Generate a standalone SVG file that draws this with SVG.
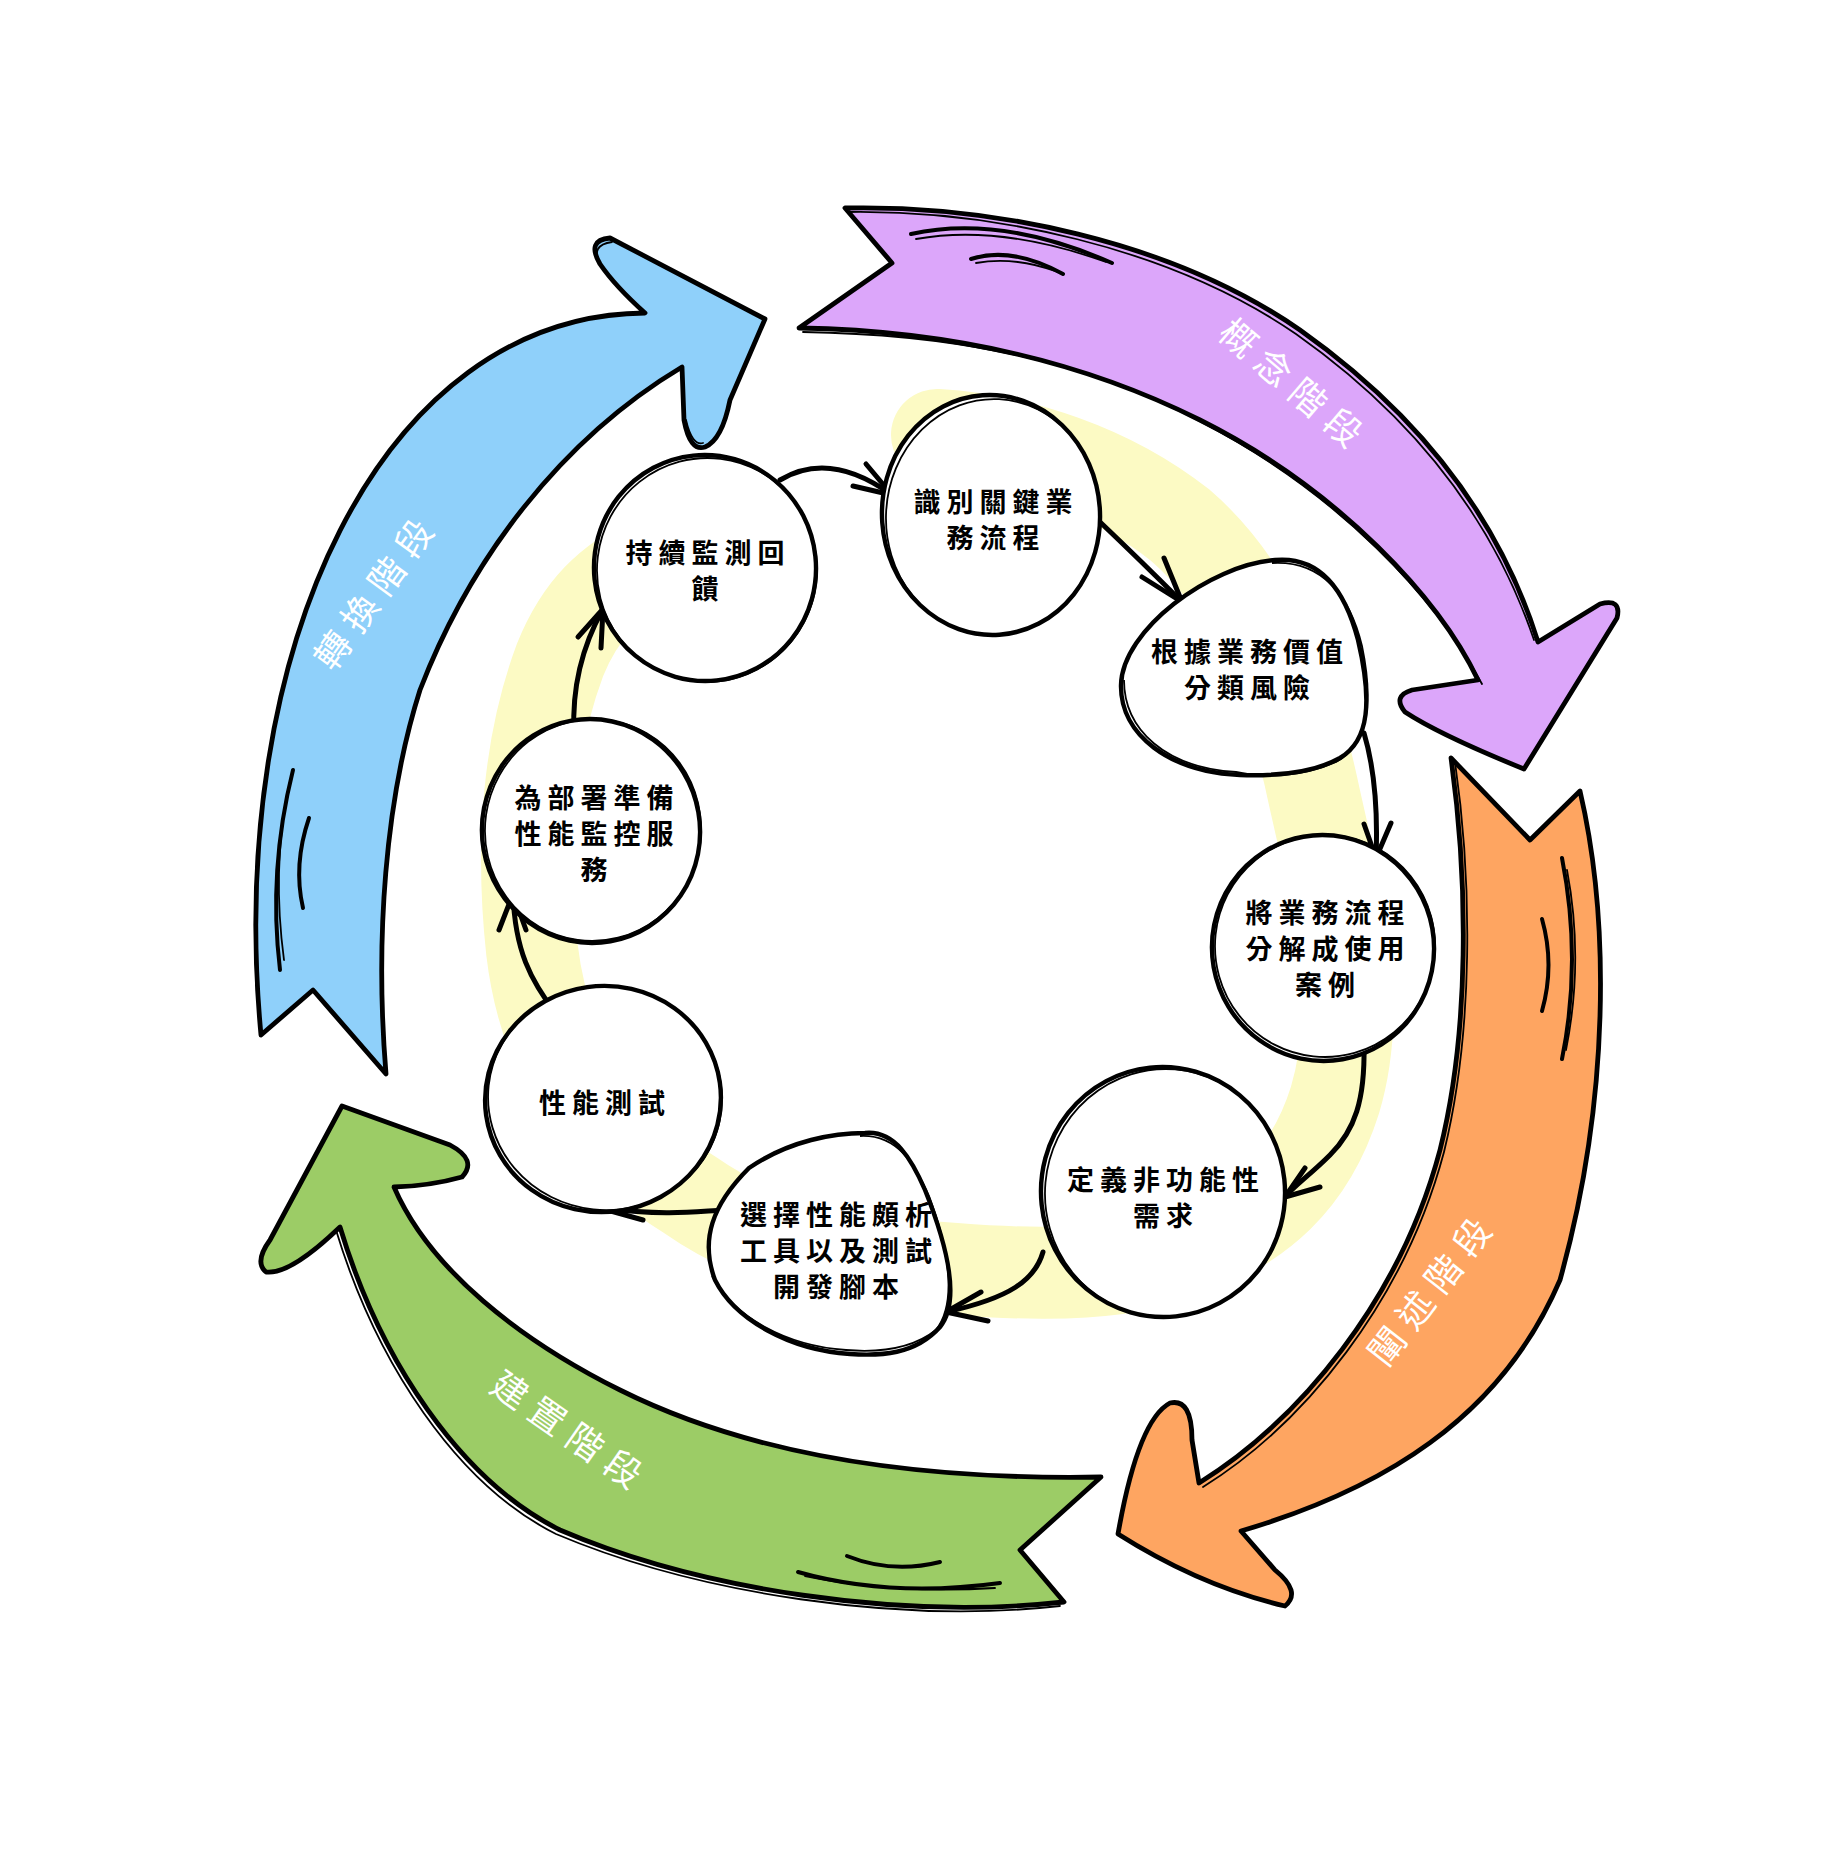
<svg xmlns="http://www.w3.org/2000/svg" width="1846" height="1862" viewBox="0 0 1846 1862">
<style>
.bg{fill:#ffffff}
.band{fill:none;stroke:#fcfac4;stroke-width:92;stroke-linecap:round;stroke-linejoin:round}
.big{stroke:#000;stroke-width:4.8;stroke-linejoin:round}
.sk{fill:none;stroke:#000;stroke-width:1.8;stroke-linecap:round}
.deco{fill:none;stroke:#000;stroke-width:4;stroke-linecap:round}
.node{fill:#fff;stroke:#000;stroke-width:4.4}
.node2{fill:none;stroke:#000;stroke-width:1.8}
.edge{fill:none;stroke:#000;stroke-width:5;stroke-linecap:round;stroke-linejoin:round}
.lbl{font-family:"Noto Sans CJK TC","Noto Sans CJK SC",sans-serif;font-size:36px;fill:#ffffff;letter-spacing:10px;text-anchor:middle}
.t{font-family:"Noto Sans CJK TC","Noto Sans CJK SC",sans-serif;font-size:27px;font-weight:700;fill:#000;letter-spacing:6px;text-anchor:middle}
</style>
<rect class="bg" x="0" y="0" width="1846" height="1862"/>

<g id="highlight-ring">
<path class="band" d="M937,435 C1020,440 1110,470 1180,525 C1250,585 1290,680 1315,800 C1335,890 1365,1000 1335,1100 C1310,1180 1260,1225 1180,1255 C1100,1280 1000,1275 880,1262 C800,1252 740,1230 690,1195 C600,1140 545,1060 532,950 C520,840 530,740 560,660 C580,610 610,580 655,560"/>
</g>

<g id="phase-concept">
<path class="big" fill="#dca6fa" d="M845,208 C990,205 1170,240 1300,330 C1420,415 1500,520 1538,642 L1600,604 Q1622,598 1617,618 L1524,769 Q1440,735 1405,712 Q1392,696 1412,690 L1478,680 C1440,600 1340,490 1200,420 C1060,350 920,330 799,328 L892,263 Z"/>
<path class="sk" d="M803,332 C930,334 1070,352 1205,424 C1340,495 1436,598 1482,684"/>
<path class="sk" d="M848,212 C990,210 1168,246 1296,334 C1415,418 1494,522 1534,640"/>
<path class="deco" d="M911,234 Q1000,214 1112,263"/>
<path class="sk" d="M916,239 Q1000,224 1106,262"/>
<path class="deco" d="M971,259 Q1012,246 1063,274"/>
<path class="sk" d="M976,263 Q1015,256 1058,272"/>
<text class="lbl" transform="translate(1286,396) rotate(40.6)">概念階段</text>
</g>

<g id="phase-elaboration">
<path class="big" fill="#fea561" d="M1451,758 L1530,840 L1580,791 C1610,920 1610,1100 1560,1280 C1500,1420 1380,1490 1241,1531 L1275,1570 Q1302,1592 1285,1606 Q1200,1586 1118,1534 Q1138,1420 1170,1403 Q1192,1398 1192,1440 L1199,1483 C1300,1420 1400,1300 1440,1150 C1470,1030 1468,880 1451,758 Z"/>
<path class="sk" d="M1455,762 C1472,880 1474,1030 1444,1152 C1404,1302 1304,1424 1203,1487"/>
<path class="deco" d="M1562,858 Q1582,960 1562,1059"/>
<path class="sk" d="M1567,870 Q1584,960 1566,1050"/>
<path class="deco" d="M1542,919 Q1555,965 1542,1011"/>
<text class="lbl" transform="translate(1443,1296) rotate(-52)">闡述階段</text>
</g>

<g id="phase-construction">
<path class="big" fill="#9ccc66" d="M1101,1477 L1020,1550 L1064,1602 C900,1620 700,1590 560,1530 C460,1480 380,1360 340,1227 Q290,1275 266,1272 Q254,1262 270,1240 L342,1106 L450,1145 Q478,1160 462,1177 Q430,1186 394,1187 C430,1270 520,1340 620,1390 C760,1460 930,1480 1101,1477 Z"/>
<path class="sk" d="M1060,1606 C898,1624 698,1594 556,1534 C456,1484 376,1362 336,1230"/>
<path class="deco" d="M847,1556 Q892,1574 940,1562"/>
<path class="deco" d="M798,1572 Q890,1598 1000,1583"/>
<path class="sk" d="M805,1576 Q892,1594 995,1588"/>
<text class="lbl" transform="translate(563,1443) rotate(35)">建置階段</text>
</g>

<g id="phase-transition">
<path class="big" fill="#8fd0fa" d="M261,1035 L313,990 L386,1074 C375,940 385,800 420,690 C470,560 560,440 682,367 L684,420 Q690,452 705,447 Q722,440 730,400 L765,319 L610,238 Q586,240 600,264 Q615,286 645,313 C380,315 225,650 261,1035 Z"/>
<path class="sk" d="M600,264 Q590,245 612,242"/>
<path class="sk" d="M686,420 Q692,446 703,443"/>
<path class="deco" d="M293,770 Q268,870 280,970"/>
<path class="sk" d="M288,790 Q272,870 284,960"/>
<path class="deco" d="M309,818 Q293,865 303,908"/>
<text class="lbl" transform="translate(387,598) rotate(-54)">轉換階段</text>
</g>

<g id="connectors">
<path class="edge" d="M780,480 Q830,450 892,495"/>
<path class="edge" d="M853,486 L892,495 L866,464"/>
<path class="edge" d="M1100,522 Q1140,560 1182,602"/>
<path class="edge" d="M1142,577 L1182,602 L1164,558"/>
<path class="edge" d="M1364,733 C1375,770 1378,810 1376,858"/>
<path class="edge" d="M1364,824 L1376,858 L1391,823"/>
<path class="edge" d="M1364,1046 C1365,1100 1355,1130 1330,1155 C1310,1175 1295,1185 1285,1197"/>
<path class="edge" d="M1305,1168 L1285,1197 L1320,1187"/>
<path class="edge" d="M1043,1252 C1035,1280 1010,1298 946,1312"/>
<path class="edge" d="M981,1292 L946,1312 L988,1321"/>
<path class="edge" d="M724,1210 C690,1212 670,1216 600,1208"/>
<path class="edge" d="M640,1194 L600,1208 L643,1220"/>
<path class="edge" d="M557,1015 C530,980 515,950 513,894"/>
<path class="edge" d="M499,930 L513,894 L526,930"/>
<path class="edge" d="M574,733 C572,690 580,650 603,609"/>
<path class="edge" d="M578,637 L603,609 L601,648"/>
</g>

<g id="n1">
<ellipse class="node" cx="991" cy="515" rx="109" ry="120" transform="rotate(-4 991 515)"/>
<ellipse class="node2" cx="993" cy="517" rx="107" ry="118" transform="rotate(3 993 517)"/>
<text class="t"><tspan x="996" y="512">識別關鍵業</tspan><tspan x="996" y="548">務流程</tspan></text>
</g>

<g id="n2">
<path class="node" d="M1275,560 C1320,556 1345,590 1358,640 C1372,700 1370,740 1340,758 C1310,775 1270,776 1240,775 C1170,772 1120,735 1121,685 C1122,630 1210,565 1275,560 Z"/>
<path class="node2" d="M1272,563 C1322,560 1350,596 1362,646 C1374,704 1368,744 1336,762 C1300,778 1262,778 1236,772 C1166,768 1124,730 1124,680"/>
<text class="t"><tspan x="1250" y="662">根據業務價值</tspan><tspan x="1250" y="698">分類風險</tspan></text>
</g>

<g id="n3">
<ellipse class="node" cx="1323" cy="948" rx="111" ry="113" transform="rotate(-10 1323 948)"/>
<ellipse class="node2" cx="1325" cy="946" rx="110" ry="111" transform="rotate(6 1325 946)"/>
<text class="t"><tspan x="1328" y="923">將業務流程</tspan><tspan x="1328" y="959">分解成使用</tspan><tspan x="1328" y="995">案例</tspan></text>
</g>

<g id="n4">
<ellipse class="node" cx="1163" cy="1192" rx="122" ry="125" transform="rotate(-6 1163 1192)"/>
<ellipse class="node2" cx="1165" cy="1193" rx="120" ry="124" transform="rotate(5 1165 1193)"/>
<text class="t"><tspan x="1166" y="1190">定義非功能性</tspan><tspan x="1166" y="1226">需求</tspan></text>
</g>

<g id="n5">
<path class="node" d="M865,1133 C895,1130 912,1160 925,1190 C945,1240 962,1300 940,1327 C915,1355 880,1356 850,1354 C790,1350 735,1320 715,1280 C700,1240 712,1205 749,1168 C790,1140 835,1133 865,1133 Z"/>
<path class="node2" d="M860,1136 C898,1134 916,1166 929,1196 C948,1246 958,1302 936,1330 C908,1352 870,1352 846,1350 C786,1346 732,1316 712,1276"/>
<text class="t"><tspan x="839" y="1225">選擇性能頗析</tspan><tspan x="839" y="1261">工具以及測試</tspan><tspan x="839" y="1297">開發腳本</tspan></text>
</g>

<g id="n6">
<ellipse class="node" cx="603" cy="1099" rx="118" ry="113" transform="rotate(-8 603 1099)"/>
<ellipse class="node2" cx="605" cy="1098" rx="117" ry="112" transform="rotate(6 605 1098)"/>
<text class="t"><tspan x="605" y="1113">性能測試</tspan></text>
</g>

<g id="n7">
<ellipse class="node" cx="591" cy="831" rx="109" ry="112" transform="rotate(-10 591 831)"/>
<ellipse class="node2" cx="593" cy="830" rx="108" ry="111" transform="rotate(8 593 830)"/>
<text class="t"><tspan x="597" y="808">為部署準備</tspan><tspan x="597" y="844">性能監控服</tspan><tspan x="597" y="880">務</tspan></text>
</g>

<g id="n8">
<ellipse class="node" cx="705" cy="568" rx="111" ry="113" transform="rotate(-6 705 568)"/>
<ellipse class="node2" cx="707" cy="570" rx="110" ry="112" transform="rotate(7 707 570)"/>
<text class="t"><tspan x="708" y="563">持續監測回</tspan><tspan x="708" y="599">饋</tspan></text>
</g>
</svg>
